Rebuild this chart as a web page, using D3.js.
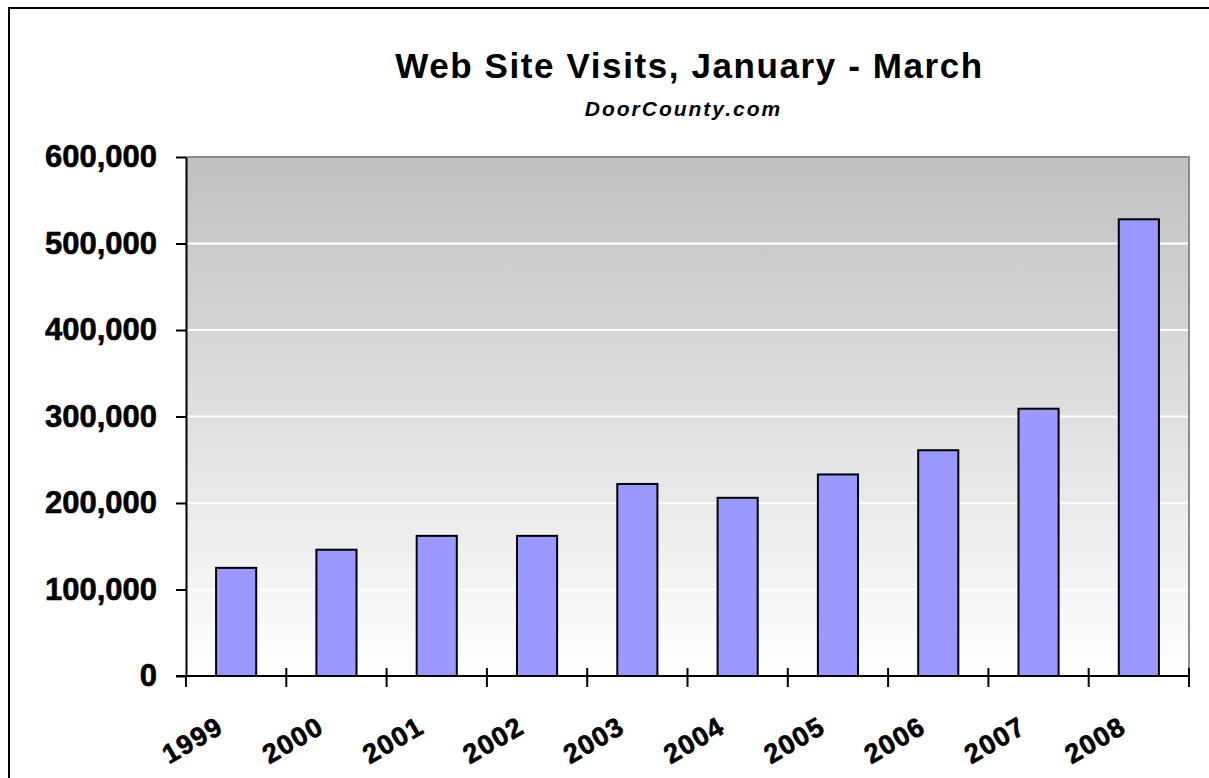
<!DOCTYPE html>
<html>
<head>
<meta charset="utf-8">
<script src="https://cdn.jsdelivr.net/npm/d3@7/dist/d3.min.js"></script>
<style>
  body { margin: 0; background: #fff; }
  svg { display: block; }
</style>
</head>
<body>
<div id="chart"></div>
<script>
const years = ["1999", "2000", "2001", "2002", "2003", "2004", "2005", "2006", "2007", "2008"];
const visits = [125000, 146000, 162000, 162000, 222000, 206000, 233000, 261000, 309000, 528000];
const yTicks = [0, 100000, 200000, 300000, 400000, 500000, 600000];
const chartTitle = "Web Site Visits, January - March";
const chartSubtitle = "DoorCounty.com";

const width = 1209;
const height = 778;
const plot = { left: 186, right: 1189, top: 157, bottom: 676 };
const FONT = "Arial, 'Liberation Sans', sans-serif";

const svg = d3
  .select("#chart")
  .append("svg")
  .attr("width", width)
  .attr("height", height);

// outer chart frame (runs off the right and bottom edge)
svg
  .append("rect")
  .attr("x", 9)
  .attr("y", 8)
  .attr("width", width + 20)
  .attr("height", height + 20)
  .attr("fill", "#fff")
  .attr("stroke", "#000")
  .attr("stroke-width", 2);

const x = d3
  .scaleBand()
  .domain(years)
  .range([plot.left, plot.right])
  .padding(0);

const y = d3
  .scaleLinear()
  .domain([0, 600000])
  .range([plot.bottom, plot.top]);

// plot area gradient
const grad = svg
  .append("defs")
  .append("linearGradient")
  .attr("id", "bg")
  .attr("x1", 0)
  .attr("y1", 0)
  .attr("x2", 0)
  .attr("y2", 1);
grad.append("stop").attr("offset", "0%").attr("stop-color", "#c0c0c0");
grad.append("stop").attr("offset", "100%").attr("stop-color", "#ffffff");

svg
  .append("rect")
  .attr("x", plot.left)
  .attr("y", plot.top)
  .attr("width", plot.right - plot.left)
  .attr("height", plot.bottom - plot.top)
  .attr("fill", "url(#bg)");

// gridlines
svg
  .append("g")
  .selectAll("line")
  .data(yTicks.filter((d) => d > 0 && d < 600000))
  .join("line")
  .attr("x1", plot.left)
  .attr("x2", plot.right)
  .attr("y1", (d) => y(d))
  .attr("y2", (d) => y(d))
  .attr("stroke", "#fff")
  .attr("stroke-width", 2);

// plot border top / right
svg
  .append("path")
  .attr("d", `M${plot.left},${plot.top}H${plot.right}V${plot.bottom}`)
  .attr("fill", "none")
  .attr("stroke", "#8c8c8c")
  .attr("stroke-width", 2);

// bars
const barWidth = x.bandwidth() / 2.5;
svg
  .append("g")
  .selectAll("rect")
  .data(years)
  .join("rect")
  .attr("x", (d) => x(d) + (x.bandwidth() - barWidth) / 2)
  .attr("y", (d, i) => y(visits[i]))
  .attr("width", barWidth)
  .attr("height", (d, i) => y(0) - y(visits[i]))
  .attr("fill", "#9999ff")
  .attr("stroke", "#000")
  .attr("stroke-width", 2);

// y axis
const yAxis = svg
  .append("g")
  .attr("transform", `translate(${plot.left},0)`)
  .call(
    d3
      .axisLeft(y)
      .tickValues(yTicks)
      .tickFormat(d3.format(","))
      .tickSize(10)
      .tickSizeOuter(0)
      .tickPadding(19)
  );
yAxis.select(".domain").attr("stroke", "#000").attr("stroke-width", 2);
yAxis.selectAll(".tick line").attr("stroke", "#000").attr("stroke-width", 2);
yAxis
  .selectAll("text")
  .attr("fill", "#000")
  .style("font-family", FONT)
  .style("font-size", "31px")
  .style("font-weight", "bold")
  .attr("stroke", "#000")
  .attr("stroke-width", 0.6);

// x axis line and ticks at category boundaries
svg
  .append("line")
  .attr("x1", plot.left - 10)
  .attr("x2", plot.right)
  .attr("y1", plot.bottom)
  .attr("y2", plot.bottom)
  .attr("stroke", "#000")
  .attr("stroke-width", 2);

const boundaries = years.map((d) => x(d)).concat([x.range()[1]]);
svg
  .append("g")
  .selectAll("line")
  .data(boundaries)
  .join("line")
  .attr("x1", (d) => d)
  .attr("x2", (d) => d)
  .attr("y1", (d, i) => (i === 0 ? plot.bottom : plot.bottom - 8))
  .attr("y2", plot.bottom + 11)
  .attr("stroke", "#000")
  .attr("stroke-width", 2);

// x labels, rotated
svg
  .append("g")
  .selectAll("text")
  .data(years)
  .join("text")
  .attr("transform", (d) => {
    const cx = x(d) + x.bandwidth() / 2 - 11;
    return `translate(${cx},${plot.bottom + 56}) rotate(-30)`;
  })
  .attr("text-anchor", "end")
  .style("font-family", FONT)
  .style("font-size", "27px")
  .style("font-weight", "bold")
  .style("letter-spacing", "1.2px")
  .attr("stroke", "#000")
  .attr("stroke-width", 0.6)
  .text((d) => d);

// titles
const midX = (plot.left + plot.right) / 2;
svg
  .append("text")
  .attr("x", midX + 2)
  .attr("y", 78)
  .attr("text-anchor", "middle")
  .style("font-family", FONT)
  .style("font-size", "35px")
  .style("font-weight", "bold")
  .style("letter-spacing", "1.6px")
  .text(chartTitle);

svg
  .append("text")
  .attr("x", midX - 4)
  .attr("y", 116)
  .attr("text-anchor", "middle")
  .style("font-family", FONT)
  .style("font-size", "21px")
  .style("font-weight", "bold")
  .style("font-style", "italic")
  .style("letter-spacing", "2px")
  .text(chartSubtitle);
</script>
</body>
</html>
